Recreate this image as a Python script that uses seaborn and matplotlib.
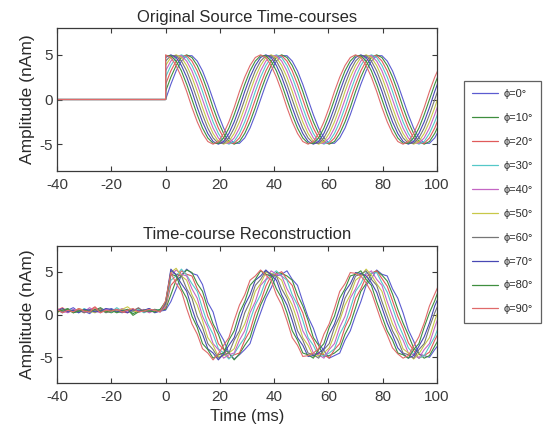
import numpy as np
import pandas as pd
import matplotlib
matplotlib.use("Agg")
import matplotlib.pyplot as plt
from matplotlib.colors import to_hex
import seaborn as sns

# ---------------- data ----------------
phase_labels = ["ϕ=0°", "ϕ=10°", "ϕ=20°", "ϕ=30°", "ϕ=40°",
                "ϕ=50°", "ϕ=60°", "ϕ=70°", "ϕ=80°", "ϕ=90°"]
line_colors = ["#5b5bd0", "#3e8e3e", "#e05a5a", "#55c8c8", "#c466c4",
               "#c8c848", "#767676", "#4848b4", "#3f8f3f", "#e06a6a"]

# sample times (ms) after stimulus onset, and pre-onset baseline samples
t_wave = np.round(np.arange(53) * 35 / 18, 3)
t_pre_source = [-40, 0]
t_pre_rec = list(range(-40, 0, 2))

pre_source = [0, 0]

src_phi0 = [0, 1.7, 3.2, 4.3, 4.9, 4.9, 4.3, 3.2, 1.7, 0, -1.7, -3.2, -4.3, -4.9, -4.9, -4.3, -3.2, -1.7,
            0, 1.7, 3.2, 4.3, 4.9, 4.9, 4.3, 3.2, 1.7, 0, -1.7, -3.2, -4.3, -4.9, -4.9, -4.3, -3.2, -1.7,
            0, 1.7, 3.2, 4.3, 4.9, 4.9, 4.3, 3.2, 1.7, 0, -1.7, -3.2, -4.3, -4.9, -4.9, -4.3, -3.2]
src_phi10 = [0.9, 2.5, 3.8, 4.7, 5, 4.7, 3.8, 2.5, 0.9, -0.9, -2.5, -3.8, -4.7, -5, -4.7, -3.8, -2.5, -0.9,
             0.9, 2.5, 3.8, 4.7, 5, 4.7, 3.8, 2.5, 0.9, -0.9, -2.5, -3.8, -4.7, -5, -4.7, -3.8, -2.5, -0.9,
             0.9, 2.5, 3.8, 4.7, 5, 4.7, 3.8, 2.5, 0.9, -0.9, -2.5, -3.8, -4.7, -5, -4.7, -3.8, -2.5]
src_phi20 = [1.7, 3.2, 4.3, 4.9, 4.9, 4.3, 3.2, 1.7, 0, -1.7, -3.2, -4.3, -4.9, -4.9, -4.3, -3.2, -1.7, 0,
             1.7, 3.2, 4.3, 4.9, 4.9, 4.3, 3.2, 1.7, 0, -1.7, -3.2, -4.3, -4.9, -4.9, -4.3, -3.2, -1.7, 0,
             1.7, 3.2, 4.3, 4.9, 4.9, 4.3, 3.2, 1.7, 0, -1.7, -3.2, -4.3, -4.9, -4.9, -4.3, -3.2, -1.7]
src_phi30 = [2.5, 3.8, 4.7, 5, 4.7, 3.8, 2.5, 0.9, -0.9, -2.5, -3.8, -4.7, -5, -4.7, -3.8, -2.5, -0.9, 0.9,
             2.5, 3.8, 4.7, 5, 4.7, 3.8, 2.5, 0.9, -0.9, -2.5, -3.8, -4.7, -5, -4.7, -3.8, -2.5, -0.9, 0.9,
             2.5, 3.8, 4.7, 5, 4.7, 3.8, 2.5, 0.9, -0.9, -2.5, -3.8, -4.7, -5, -4.7, -3.8, -2.5, -0.9]
src_phi40 = [3.2, 4.3, 4.9, 4.9, 4.3, 3.2, 1.7, 0, -1.7, -3.2, -4.3, -4.9, -4.9, -4.3, -3.2, -1.7, 0, 1.7,
             3.2, 4.3, 4.9, 4.9, 4.3, 3.2, 1.7, 0, -1.7, -3.2, -4.3, -4.9, -4.9, -4.3, -3.2, -1.7, 0, 1.7,
             3.2, 4.3, 4.9, 4.9, 4.3, 3.2, 1.7, 0, -1.7, -3.2, -4.3, -4.9, -4.9, -4.3, -3.2, -1.7, 0]
src_phi50 = [3.8, 4.7, 5, 4.7, 3.8, 2.5, 0.9, -0.9, -2.5, -3.8, -4.7, -5, -4.7, -3.8, -2.5, -0.9, 0.9, 2.5,
             3.8, 4.7, 5, 4.7, 3.8, 2.5, 0.9, -0.9, -2.5, -3.8, -4.7, -5, -4.7, -3.8, -2.5, -0.9, 0.9, 2.5,
             3.8, 4.7, 5, 4.7, 3.8, 2.5, 0.9, -0.9, -2.5, -3.8, -4.7, -5, -4.7, -3.8, -2.5, -0.9, 0.9]
src_phi60 = [4.3, 4.9, 4.9, 4.3, 3.2, 1.7, 0, -1.7, -3.2, -4.3, -4.9, -4.9, -4.3, -3.2, -1.7, 0, 1.7, 3.2,
             4.3, 4.9, 4.9, 4.3, 3.2, 1.7, 0, -1.7, -3.2, -4.3, -4.9, -4.9, -4.3, -3.2, -1.7, 0, 1.7, 3.2,
             4.3, 4.9, 4.9, 4.3, 3.2, 1.7, 0, -1.7, -3.2, -4.3, -4.9, -4.9, -4.3, -3.2, -1.7, 0, 1.7]
src_phi70 = [4.7, 5, 4.7, 3.8, 2.5, 0.9, -0.9, -2.5, -3.8, -4.7, -5, -4.7, -3.8, -2.5, -0.9, 0.9, 2.5, 3.8,
             4.7, 5, 4.7, 3.8, 2.5, 0.9, -0.9, -2.5, -3.8, -4.7, -5, -4.7, -3.8, -2.5, -0.9, 0.9, 2.5, 3.8,
             4.7, 5, 4.7, 3.8, 2.5, 0.9, -0.9, -2.5, -3.8, -4.7, -5, -4.7, -3.8, -2.5, -0.9, 0.9, 2.5]
src_phi80 = [4.9, 4.9, 4.3, 3.2, 1.7, 0, -1.7, -3.2, -4.3, -4.9, -4.9, -4.3, -3.2, -1.7, 0, 1.7, 3.2, 4.3,
             4.9, 4.9, 4.3, 3.2, 1.7, 0, -1.7, -3.2, -4.3, -4.9, -4.9, -4.3, -3.2, -1.7, 0, 1.7, 3.2, 4.3,
             4.9, 4.9, 4.3, 3.2, 1.7, 0, -1.7, -3.2, -4.3, -4.9, -4.9, -4.3, -3.2, -1.7, 0, 1.7, 3.2]
src_phi90 = [5, 4.7, 3.8, 2.5, 0.9, -0.9, -2.5, -3.8, -4.7, -5, -4.7, -3.8, -2.5, -0.9, 0.9, 2.5, 3.8, 4.7,
             5, 4.7, 3.8, 2.5, 0.9, -0.9, -2.5, -3.8, -4.7, -5, -4.7, -3.8, -2.5, -0.9, 0.9, 2.5, 3.8, 4.7,
             5, 4.7, 3.8, 2.5, 0.9, -0.9, -2.5, -3.8, -4.7, -5, -4.7, -3.8, -2.5, -0.9, 0.9, 2.5, 3.8]

# reconstruction: pre-onset baseline noise
base_phi0 = [0.6, 0.2, 0.5, 0.8, 0.3, 0.4, 0.1, 0.6, 0.5, 0.3, 0.7, 0.4, 0.2, 0.5, 0.6, 0.3, 0.4, 0.7, 0.3, 0.4]
base_phi10 = [0.3, 0.5, 0.7, 0.2, 0.4, 0.6, 0.3, 0.5, 0.8, 0.4, 0.2, 0.5, 0.3, 0.6, 0.1, 0.4, 0.5, 0.3, 0.6, 0.5]
base_phi20 = [0.5, 0.8, 0.3, 0.4, 0.6, 0.2, 0.5, 0.9, 0.3, 0.5, 0.4, 0.6, 0.3, 0.2, 0.5, 0.7, 0.4, 0.3, 0.5, 0.4]
base_phi30 = [0.4, 0.3, 0.6, 0.5, 0.2, 0.7, 0.4, 0.3, 0.6, 0.5, 0.3, 0.8, 0.4, 0.5, 0.3, 0.6, 0.2, 0.5, 0.4, 0.6]
base_phi40 = [0.7, 0.4, 0.2, 0.6, 0.5, 0.3, 0.8, 0.4, 0.2, 0.6, 0.5, 0.4, 0.7, 0.3, 0.5, 0.4, 0.6, 0.2, 0.5, 0.3]
base_phi50 = [0.2, 0.6, 0.4, 0.3, 0.7, 0.5, 0.4, 0.2, 0.6, 0.3, 0.5, 0.4, 0.6, 0.9, 0.4, 0.3, 0.5, 0.6, 0.4, 0.5]
base_phi60 = [0.5, 0.3, 0.6, 0.4, 0.5, 0.2, 0.6, 0.4, 0.7, 0.2, 0.4, 0.6, 0.3, 0.5, 0.4, 0.8, 0.3, 0.4, 0.6, 0.3]
base_phi70 = [0.4, 0.7, 0.3, 0.5, 0.2, 0.6, 0.5, 0.3, 0.4, 0.7, 0.6, 0.3, 0.5, 0.2, 0.6, 0.4, 0.5, 0.7, 0.2, 0.4]
base_phi80 = [0.3, 0.5, 0.6, 0.2, 0.4, 0.5, 0.3, 0.6, 0.4, 0.3, 0.5, 0.2, 0.4, 0.6, -0.1, 0.3, 0.5, 0.4, 0.3, 0.6]
base_phi90 = [0.6, 0.2, 0.5, 0.3, 0.7, 0.4, 0.3, 0.8, 0.2, 0.5, 0.4, 0.6, 0.3, 0.5, 0.7, 0.3, 0.4, 0.6, 0.5, 0.3]

# reconstruction: post-onset
rec_phi0 = [0.5, 1.5, 3.0, 4.6, 5.3, 4.8, 4.6, 3.5, 1.4, 0.3, -1.9, -3.0, -4.5, -5.2, -4.7, -4.1, -3.4, -1.5,
            0.2, 1.9, 3.1, 4.5, 4.7, 5.1, 4.1, 3.4, 1.5, -0.3, -1.6, -3.4, -4.2, -5.1, -4.8, -4.5, -3.0, -1.9,
            -0.1, 1.5, 3.4, 4.2, 5.2, 4.7, 4.5, 3.0, 1.9, 0.2, -1.8, -3.1, -4.6, -4.8, -5.0, -4.1, -3.3]
rec_phi10 = [0.6, 2.3, 4.0, 4.5, 5.2, 4.9, 3.6, 2.7, 0.7, -1.1, -2.3, -4.0, -4.5, -5.3, -4.6, -3.6, -2.7, -0.7,
             1.1, 2.4, 3.9, 4.9, 4.8, 4.5, 4.0, 2.3, 1.0, -0.7, -2.7, -3.6, -4.9, -4.8, -4.5, -4.0, -2.3, -1.1,
             0.8, 2.7, 3.6, 4.8, 5.1, 4.6, 3.9, 2.4, 0.6, -1.0, -2.4, -3.9, -4.6, -5.1, -4.8, -3.7, -2.6]
rec_phi20 = [0.8, 3.4, 4.1, 5.1, 4.7, 4.5, 3.0, 1.9, -0.2, -1.5, -3.4, -4.1, -5.1, -4.7, -4.5, -3.0, -1.9, 0.2,
             1.5, 3.3, 4.5, 4.7, 5.0, 4.1, 3.4, 1.5, 0.2, -1.9, -3.0, -4.5, -4.7, -5.1, -4.1, -3.4, -1.5, -0.2,
             1.9, 3.0, 4.4, 4.8, 5.1, 4.2, 3.3, 1.6, -0.2, -1.6, -3.3, -4.2, -5.1, -4.8, -4.4, -3.0, -1.8]
rec_phi30 = [1.0, 4.0, 4.5, 5.3, 4.6, 3.6, 2.7, 0.7, -1.1, -2.3, -4.0, -4.5, -5.2, -4.6, -3.6, -2.7, -0.7, 1.1,
             2.3, 4.0, 4.6, 5.1, 4.5, 4.0, 2.3, 1.1, -0.7, -2.7, -3.6, -4.9, -4.8, -4.5, -4.0, -2.3, -1.1, 0.7,
             2.7, 3.6, 4.9, 4.8, 4.9, 3.7, 2.6, 0.8, -1.0, -2.4, -3.9, -4.6, -5.1, -4.8, -3.7, -2.6, -1.0]
rec_phi40 = [1.0, 4.5, 5.2, 4.7, 4.5, 3.0, 1.9, -0.2, -1.5, -3.4, -4.1, -5.1, -4.7, -4.5, -3.0, -1.9, 0.2, 1.5,
             3.4, 4.1, 5.1, 4.7, 4.5, 3.0, 1.9, 0.2, -1.9, -3.0, -4.5, -4.7, -5.1, -4.1, -3.4, -1.5, -0.2, 1.9,
             3.0, 4.5, 4.7, 5.1, 4.1, 3.4, 1.5, -0.2, -1.9, -3.0, -4.5, -4.7, -5.1, -4.1, -3.4, -1.5, 0.2]
rec_phi50 = [1.1, 4.9, 5.4, 4.5, 4.0, 2.3, 1.1, -0.7, -2.7, -3.6, -4.9, -4.8, -4.5, -4.0, -2.3, -1.1, 0.7, 2.7,
             3.6, 4.9, 4.8, 4.5, 4.0, 2.3, 1.1, -0.7, -2.7, -3.6, -4.9, -4.8, -4.5, -3.9, -2.4, -0.7, 1.1, 2.3,
             4.0, 4.5, 5.3, 4.6, 3.6, 2.7, 0.7, -1.1, -2.3, -4.0, -4.5, -5.2, -4.6, -3.6, -2.7, -0.7, 1.0]
rec_phi60 = [1.2, 5.1, 4.7, 4.5, 3.0, 1.9, -0.2, -1.5, -3.4, -4.1, -5.1, -4.7, -4.5, -3.0, -1.9, 0.2, 1.5, 3.4,
             4.1, 5.1, 4.7, 4.5, 3.0, 1.9, 0.2, -1.9, -3.0, -4.5, -4.7, -5.1, -4.1, -3.4, -1.5, -0.2, 1.9, 3.0,
             4.5, 4.7, 5.1, 4.1, 3.4, 1.5, -0.2, -1.9, -3.0, -4.5, -4.7, -5.1, -4.1, -3.4, -1.5, 0.2, 1.6]
rec_phi70 = [1.4, 5.3, 4.6, 3.6, 2.7, 0.7, -1.1, -2.3, -4.0, -4.5, -5.3, -4.6, -3.6, -2.7, -0.7, 1.1, 2.3, 4.0,
             4.5, 5.2, 4.6, 4.0, 2.3, 1.1, -0.7, -2.7, -3.6, -4.9, -4.8, -4.5, -4.0, -2.3, -1.1, 0.7, 2.7, 3.6,
             4.9, 4.8, 4.5, 3.7, 2.6, 0.8, -1.0, -2.4, -3.9, -4.6, -5.1, -4.8, -3.7, -2.6, -1.0, 1.0, 2.4]
rec_phi80 = [1.5, 4.7, 4.5, 3.0, 1.9, -0.2, -1.5, -3.4, -4.1, -5.1, -4.7, -4.5, -3.0, -1.9, 0.2, 1.5, 3.4, 4.1,
             5.1, 4.7, 4.5, 3.0, 1.9, 0.2, -1.9, -3.0, -4.5, -4.7, -5.1, -4.1, -3.4, -1.5, -0.2, 1.9, 3.0, 4.5,
             4.7, 5.1, 4.1, 3.4, 1.5, -0.2, -1.9, -3.0, -4.5, -4.7, -5.1, -4.1, -3.4, -1.5, 0.2, 1.6, 3.3]
rec_phi90 = [1.6, 4.9, 3.6, 2.7, 0.7, -1.1, -2.3, -4.0, -4.5, -5.3, -4.6, -3.6, -2.7, -0.7, 1.1, 2.3, 4.0, 4.5,
             5.2, 4.6, 4.0, 2.3, 1.1, -0.7, -2.7, -3.6, -4.9, -4.8, -4.5, -4.0, -2.3, -1.1, 0.7, 2.7, 3.6, 4.9,
             4.8, 4.5, 3.7, 2.6, 0.8, -1.0, -2.4, -3.9, -4.6, -5.1, -4.8, -3.7, -2.6, -1.0, 1.0, 2.4, 3.8]

source_series = [src_phi0, src_phi10, src_phi20, src_phi30, src_phi40,
                 src_phi50, src_phi60, src_phi70, src_phi80, src_phi90]
base_series = [base_phi0, base_phi10, base_phi20, base_phi30, base_phi40,
               base_phi50, base_phi60, base_phi70, base_phi80, base_phi90]
rec_series = [rec_phi0, rec_phi10, rec_phi20, rec_phi30, rec_phi40,
              rec_phi50, rec_phi60, rec_phi70, rec_phi80, rec_phi90]

# ---------------- tidy tables ----------------
rows_src, rows_rec = [], []
for lab, s, b, r in zip(phase_labels, source_series, base_series, rec_series):
    assert len(s) == len(t_wave) and len(r) == len(t_wave) and len(b) == len(t_pre_rec)
    for t, v in zip(list(t_pre_source) + list(t_wave), list(pre_source) + list(s)):
        rows_src.append((lab, t, v))
    for t, v in zip(list(t_pre_rec) + list(t_wave), list(b) + list(r)):
        rows_rec.append((lab, t, v))
df_src = pd.DataFrame(rows_src, columns=["phase", "time", "amp"])
df_rec = pd.DataFrame(rows_rec, columns=["phase", "time", "amp"])

# ---------------- style ----------------
sns.set_style("ticks")
plt.rcParams["font.family"] = ["Liberation Sans", "DejaVu Sans"]
plt.rcParams.update({
    "axes.unicode_minus": False,
    "xtick.direction": "in", "ytick.direction": "in",
    "xtick.top": True, "ytick.right": True,
    "xtick.major.size": 3.5, "ytick.major.size": 3.5,
    "axes.edgecolor": "#3a3a3a", "axes.linewidth": 0.9,
    "xtick.color": "#3a3a3a", "ytick.color": "#3a3a3a",
    "text.color": "#2a2a2a", "axes.labelcolor": "#2a2a2a",
})

W, H = 547, 433
fig = plt.figure(figsize=(W / 100, H / 100), dpi=100)
ax1 = fig.add_axes([57 / W, 1 - 171 / H, 380 / W, 143 / H])
ax2 = fig.add_axes([57 / W, 1 - 383 / H, 380 / W, 137 / H])

palette = dict(zip(phase_labels, line_colors))

sns.lineplot(data=df_src, x="time", y="amp", hue="phase", hue_order=phase_labels,
             palette=palette, estimator=None, sort=False, lw=0.8, ax=ax1)
sns.lineplot(data=df_rec, x="time", y="amp", hue="phase", hue_order=phase_labels,
             palette=palette, estimator=None, sort=False, lw=0.8, ax=ax2, legend=False)

handles, labels = ax1.get_legend_handles_labels()
ax1.get_legend().remove()

# stack lines in phase order (last phase on top, as in the original)
order = {to_hex(c): i for i, c in enumerate(line_colors)}
for ax in (ax1, ax2):
    for ln in ax.lines:
        ln.set_zorder(2 + 0.01 * order.get(to_hex(ln.get_color()), 0))

for ax in (ax1, ax2):
    ax.set_xlim(-40, 100)
    ax.set_ylim(-8, 8)
    ax.set_xticks([-40, -20, 0, 20, 40, 60, 80, 100])
    ax.set_yticks([-5, 0, 5])
    ax.tick_params(axis="x", labelsize=11, pad=5)
    ax.tick_params(axis="y", labelsize=11, pad=3)
    ax.set_ylabel("Amplitude (nAm)", fontsize=12.5, labelpad=3)
    for sp in ax.spines.values():
        sp.set_visible(True)

ax1.set_xlabel("")
ax2.set_xlabel("Time (ms)", fontsize=12, labelpad=4)
ax1.set_title("Original Source Time-courses", fontsize=12, pad=4)
ax2.set_title("Time-course Reconstruction", fontsize=12, pad=5)

leg = fig.legend(handles, labels, loc="upper left",
                 bbox_to_anchor=(464 / W, 1 - 81 / H), frameon=True, fancybox=False,
                 fontsize=8, handlelength=2.3, labelspacing=1.25, borderpad=0.75,
                 handletextpad=0.5, borderaxespad=0)
leg.get_frame().set_edgecolor("#3a3a3a")
leg.get_frame().set_linewidth(0.9)
for h in leg.get_lines():
    h.set_linewidth(0.9)

fig.savefig("out.png", dpi=100)
